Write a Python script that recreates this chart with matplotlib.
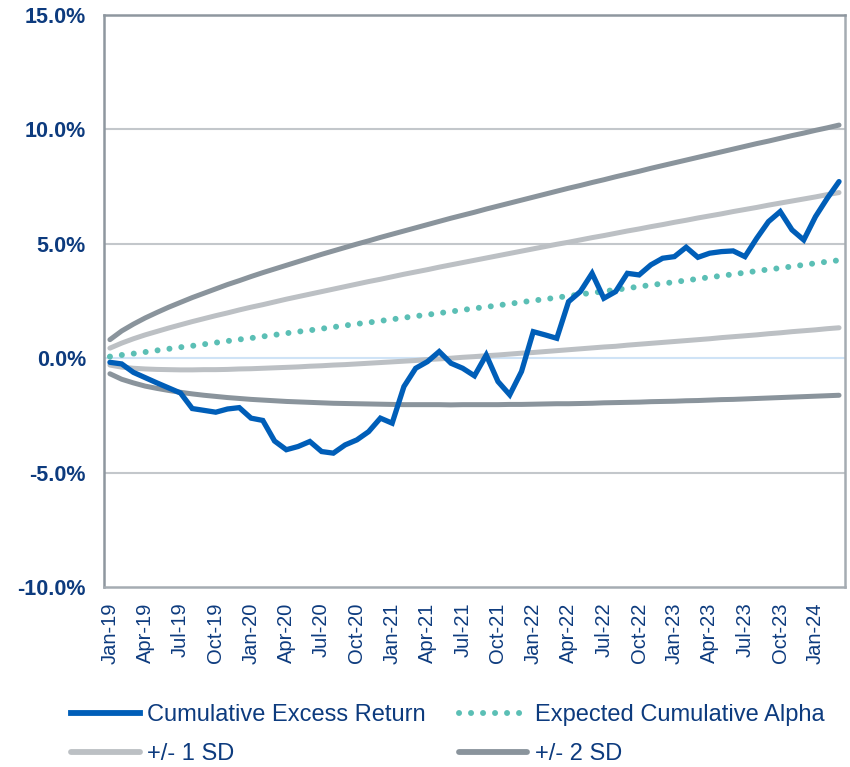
import matplotlib.pyplot as plt
from matplotlib.ticker import FuncFormatter

# monthly values, Jan-19 .. Mar-24 (percent)
excess_return = [-0.18, -0.25, -0.62, -0.85, -1.08, -1.30, -1.52, -2.20, -2.28, -2.36,
                 -2.22, -2.16, -2.62, -2.72, -3.62, -4.00, -3.86, -3.64, -4.08, -4.15,
                 -3.79, -3.57, -3.21, -2.62, -2.84, -1.24, -0.44, -0.15, 0.29, -0.22,
                 -0.44, -0.77, 0.14, -1.02, -1.60, -0.58, 1.16, 1.02, 0.87, 2.47,
                 2.91, 3.71, 2.62, 2.91, 3.71, 3.64, 4.08, 4.37, 4.44, 4.85,
                 4.41, 4.59, 4.66, 4.69, 4.44, 5.24, 5.97, 6.41, 5.61, 5.17,
                 6.19, 6.99, 7.72]

expected_alpha = [0.07, 0.14, 0.20, 0.27, 0.34, 0.41, 0.48, 0.54, 0.61, 0.68,
                  0.75, 0.82, 0.88, 0.95, 1.02, 1.09, 1.16, 1.22, 1.29, 1.36,
                  1.43, 1.50, 1.56, 1.63, 1.70, 1.77, 1.84, 1.90, 1.97, 2.04,
                  2.11, 2.18, 2.24, 2.31, 2.38, 2.45, 2.52, 2.58, 2.65, 2.72,
                  2.79, 2.86, 2.92, 2.99, 3.06, 3.13, 3.20, 3.26, 3.33, 3.40,
                  3.47, 3.54, 3.60, 3.67, 3.74, 3.81, 3.88, 3.94, 4.01, 4.08,
                  4.15, 4.22, 4.28]

plus_1sd = [0.44, 0.66, 0.85, 1.02, 1.17, 1.32, 1.46, 1.60, 1.73, 1.86,
            1.98, 2.11, 2.23, 2.34, 2.46, 2.58, 2.69, 2.80, 2.91, 3.02,
            3.13, 3.24, 3.35, 3.45, 3.56, 3.67, 3.77, 3.87, 3.98, 4.08,
            4.18, 4.28, 4.38, 4.48, 4.58, 4.68, 4.78, 4.88, 4.98, 5.07,
            5.17, 5.27, 5.36, 5.46, 5.56, 5.65, 5.75, 5.84, 5.94, 6.03,
            6.13, 6.22, 6.31, 6.41, 6.50, 6.59, 6.69, 6.78, 6.87, 6.96,
            7.05, 7.15, 7.24]

minus_1sd = [-0.30, -0.39, -0.44, -0.47, -0.49, -0.50, -0.51, -0.51, -0.50, -0.50,
             -0.49, -0.47, -0.46, -0.44, -0.42, -0.40, -0.38, -0.35, -0.33, -0.30,
             -0.28, -0.25, -0.22, -0.19, -0.16, -0.13, -0.10, -0.06, -0.03, 0.00,
             0.04, 0.07, 0.11, 0.14, 0.18, 0.22, 0.25, 0.29, 0.33, 0.37,
             0.41, 0.45, 0.49, 0.52, 0.57, 0.61, 0.65, 0.69, 0.73, 0.77,
             0.81, 0.85, 0.90, 0.94, 0.98, 1.02, 1.07, 1.11, 1.16, 1.20,
             1.24, 1.29, 1.33]

plus_2sd = [0.81, 1.19, 1.49, 1.76, 2.00, 2.23, 2.44, 2.65, 2.84, 3.03,
            3.22, 3.39, 3.57, 3.74, 3.90, 4.06, 4.22, 4.38, 4.54, 4.69,
            4.84, 4.99, 5.13, 5.28, 5.42, 5.56, 5.70, 5.84, 5.98, 6.12,
            6.25, 6.38, 6.52, 6.65, 6.78, 6.91, 7.04, 7.17, 7.30, 7.43,
            7.55, 7.68, 7.80, 7.93, 8.05, 8.17, 8.30, 8.42, 8.54, 8.66,
            8.78, 8.90, 9.02, 9.14, 9.26, 9.38, 9.49, 9.61, 9.73, 9.84,
            9.96, 10.07, 10.19]

minus_2sd = [-0.68, -0.92, -1.08, -1.22, -1.32, -1.41, -1.49, -1.56, -1.62, -1.67,
             -1.72, -1.76, -1.80, -1.83, -1.86, -1.89, -1.91, -1.93, -1.95, -1.97,
             -1.98, -1.99, -2.00, -2.01, -2.02, -2.03, -2.03, -2.03, -2.03, -2.04,
             -2.03, -2.03, -2.03, -2.03, -2.02, -2.02, -2.01, -2.00, -1.99, -1.99,
             -1.98, -1.97, -1.95, -1.94, -1.93, -1.92, -1.90, -1.89, -1.88, -1.86,
             -1.85, -1.83, -1.81, -1.80, -1.78, -1.76, -1.74, -1.72, -1.70, -1.68,
             -1.66, -1.64, -1.62]

tick_labels = ["Jan-19", "Apr-19", "Jul-19", "Oct-19", "Jan-20", "Apr-20", "Jul-20",
               "Oct-20", "Jan-21", "Apr-21", "Jul-21", "Oct-21", "Jan-22", "Apr-22",
               "Jul-22", "Oct-22", "Jan-23", "Apr-23", "Jul-23", "Oct-23", "Jan-24"]

navy = "#0d3b7e"
blue = "#005eb8"
teal = "#5bbfb5"
light_gray = "#bcc0c4"
dark_gray = "#8a949c"
dots = (0, (0.01, 2.0))

plt.rcParams["font.family"] = ["Liberation Sans", "DejaVu Sans"]

months = list(range(len(excess_return)))

fig = plt.figure(figsize=(8.5, 7.67), dpi=100)
ax = fig.add_axes([0.1224, 0.2347, 0.8716, 0.7457])

# gridlines
for v in [-5, 5, 10]:
    ax.axhline(v, color="#c3c7cb", lw=1.5, zorder=1)
ax.axhline(0, color="#cfe3f6", lw=1.5, zorder=1)

ax.plot(months, plus_2sd, color=dark_gray, lw=3.6, solid_capstyle="round", zorder=2)
ax.plot(months, minus_2sd, color=dark_gray, lw=3.6, solid_capstyle="round", zorder=2)
ax.plot(months, plus_1sd, color=light_gray, lw=3.6, solid_capstyle="round", zorder=2)
ax.plot(months, minus_1sd, color=light_gray, lw=3.6, solid_capstyle="round", zorder=2)
ax.plot(months, expected_alpha, color=teal, lw=4.3, linestyle=dots,
        dash_capstyle="round", zorder=3)
ax.plot(months, excess_return, color=blue, lw=3.8, solid_capstyle="round",
        solid_joinstyle="miter", zorder=4)

ax.set_xlim(-0.5, len(months) - 0.5)
ax.set_ylim(-10, 15)
ax.set_yticks([-10, -5, 0, 5, 10, 15])
ax.yaxis.set_major_formatter(FuncFormatter(lambda v, p: f"{v:.1f}%"))
ax.set_xticks(months[::3])
ax.set_xticklabels(tick_labels, rotation=90)

ax.tick_params(axis="y", length=0, pad=13, labelsize=15.5, labelcolor=navy)
for lab in ax.get_yticklabels():
    lab.set_fontweight("bold")
ax.tick_params(axis="x", length=0, pad=11, labelsize=14.5, labelcolor=navy)

for side in ["left", "top"]:
    ax.spines[side].set_color("#8e979f")
    ax.spines[side].set_linewidth(1.8)
for side in ["right", "bottom"]:
    ax.spines[side].set_color("#a5acb2")
    ax.spines[side].set_linewidth(1.8)

# column-major fill: col 1 = blue, 1 SD; col 2 = alpha, 2 SD
handles = [
    plt.Line2D([], [], color=blue, lw=4.2),
    plt.Line2D([], [], color=light_gray, lw=4.2, solid_capstyle="round"),
    plt.Line2D([], [], color=teal, lw=4.3, linestyle=dots, dash_capstyle="round"),
    plt.Line2D([], [], color=dark_gray, lw=4.2, solid_capstyle="round"),
]
labels = ["Cumulative Excess Return", "+/- 1 SD", "Expected Cumulative Alpha", "+/- 2 SD"]
leg = fig.legend(handles, labels, ncol=2, loc="center", bbox_to_anchor=(0.527, 0.042),
                 frameon=False, fontsize=17, handlelength=2.9, handletextpad=0.33,
                 columnspacing=1.4, labelspacing=0.72, borderpad=0)
for t in leg.get_texts():
    t.set_color(navy)

fig.savefig("out.png", dpi=100)
